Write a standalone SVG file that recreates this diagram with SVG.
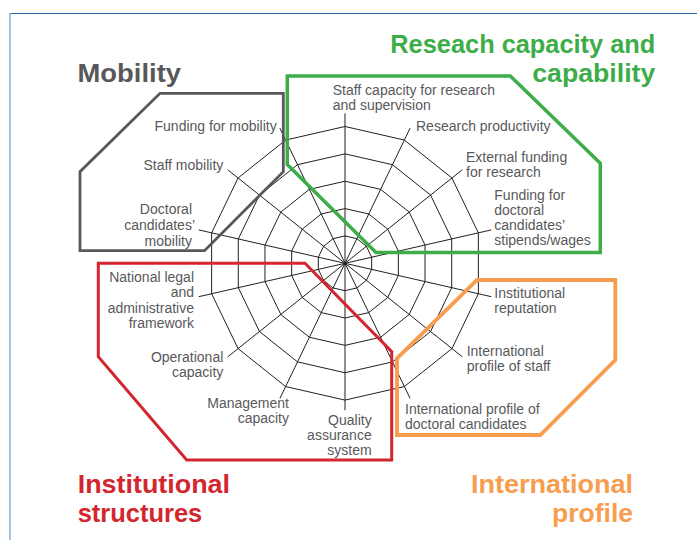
<svg xmlns="http://www.w3.org/2000/svg" width="697" height="540" viewBox="0 0 697 540">
<style>
.web{fill:none;stroke:#231f20;stroke-width:1}
.lbl{font-family:"Liberation Sans",Arial,sans-serif;font-size:14px;fill:#58595b}
.end{text-anchor:end}
.ttl{font-family:"Liberation Sans",Arial,sans-serif;font-size:25.5px;font-weight:bold}
.frame{fill:none;stroke-linejoin:miter}
</style>
<rect width="697" height="540" fill="#ffffff"/>
<g id="border">
<line x1="9" y1="13.5" x2="697" y2="13.5" stroke="#2b6aab" stroke-width="1.2"/>
<line x1="10" y1="13" x2="10" y2="540" stroke="#8cb6de" stroke-width="1.6"/>
</g>
<g id="connectors" transform="translate(345,263.3)">
<polygon class="web" points="0,-27.36 11.87,-24.65 21.39,-17.06 26.67,-6.09 26.67,6.09 21.39,17.06 11.87,24.65 0,27.36 -11.87,24.65 -21.39,17.06 -26.67,6.09 -26.67,-6.09 -21.39,-17.06 -11.87,-24.65"/>
<polygon class="web" points="0,-54.72 23.74,-49.30 42.78,-34.12 53.35,-12.18 53.35,12.18 42.78,34.12 23.74,49.30 0,54.72 -23.74,49.30 -42.78,34.12 -53.35,12.18 -53.35,-12.18 -42.78,-34.12 -23.74,-49.30"/>
<polygon class="web" points="0,-82.08 35.61,-73.95 64.17,-51.18 80.02,-18.26 80.02,18.26 64.17,51.18 35.61,73.95 0,82.08 -35.61,73.95 -64.17,51.18 -80.02,18.26 -80.02,-18.26 -64.17,-51.18 -35.61,-73.95"/>
<polygon class="web" points="0,-109.44 47.48,-98.60 85.56,-68.24 106.70,-24.35 106.70,24.35 85.56,68.24 47.48,98.60 0,109.44 -47.48,98.60 -85.56,68.24 -106.70,24.35 -106.70,-24.35 -85.56,-68.24 -47.48,-98.60"/>
<polygon class="web" points="0,-136.8 59.35,-123.25 106.95,-85.29 133.37,-30.44 133.37,30.44 106.95,85.29 59.35,123.25 0,136.8 -59.35,123.25 -106.95,85.29 -133.37,30.44 -133.37,-30.44 -106.95,-85.29 -59.35,-123.25"/>
<line class="web" x1="0" y1="0" x2="0" y2="-150"/>
<line class="web" x1="0" y1="0" x2="65.08" y2="-135.15"/>
<line class="web" x1="0" y1="0" x2="117.27" y2="-93.52"/>
<line class="web" x1="0" y1="0" x2="146.24" y2="-33.38"/>
<line class="web" x1="0" y1="0" x2="146.24" y2="33.38"/>
<line class="web" x1="0" y1="0" x2="117.27" y2="93.52"/>
<line class="web" x1="0" y1="0" x2="65.08" y2="135.15"/>
<line class="web" x1="0" y1="0" x2="0" y2="147"/>
<line class="web" x1="0" y1="0" x2="-65.08" y2="135.15"/>
<line class="web" x1="0" y1="0" x2="-117.27" y2="93.52"/>
<line class="web" x1="0" y1="0" x2="-146.24" y2="33.38"/>
<line class="web" x1="0" y1="0" x2="-146.24" y2="-33.38"/>
<line class="web" x1="0" y1="0" x2="-117.27" y2="-93.52"/>
<line class="web" x1="0" y1="0" x2="-65.08" y2="-135.15"/>
</g>
<g id="frame-mobility">
<polygon class="frame" points="160,93.3 283.3,93.3 283.3,171.7 204.5,250.7 80,250.7 80,171.7" stroke="#58585a" stroke-width="2.8"/>
<text class="ttl" x="77.5" y="81.7" fill="#58585a" textLength="103.5" lengthAdjust="spacingAndGlyphs">Mobility</text>
</g>
<g id="frame-research">
<polygon class="frame" points="287.3,76 510.3,76 600.3,163.3 600.3,252.5 376,252.5 287.3,164.5" stroke="#3dad48" stroke-width="3.5"/>
<text class="ttl end" x="655.3" y="53.3" fill="#3dad48" textLength="265" lengthAdjust="spacingAndGlyphs">Reseach capacity and</text>
<text class="ttl end" x="655.3" y="81.7" fill="#3dad48" textLength="123" lengthAdjust="spacingAndGlyphs">capability</text>
</g>
<g id="frame-institutional">
<polygon class="frame" points="98.3,263.3 305,263.3 391.7,351.7 391.7,460 186.7,460 98.3,356.7" stroke="#d3262f" stroke-width="3"/>
<text class="ttl" x="77.7" y="492.7" fill="#d3262f" textLength="152.3" lengthAdjust="spacingAndGlyphs">Institutional</text>
<text class="ttl" x="77.7" y="521.7" fill="#d3262f" textLength="124.6" lengthAdjust="spacingAndGlyphs">structures</text>
</g>
<g id="frame-international">
<polygon class="frame" points="477,280 615.3,280 615.3,360 540.3,435 397,435 397,358.3" stroke="#f89d4e" stroke-width="3.8"/>
<text class="ttl end" x="633" y="493.3" fill="#f89d4e" textLength="162" lengthAdjust="spacingAndGlyphs">International</text>
<text class="ttl end" x="633" y="521.7" fill="#f89d4e" textLength="81" lengthAdjust="spacingAndGlyphs">profile</text>
</g>
<g id="n-staff-capacity"><text class="lbl" x="332.7" y="94.7">Staff capacity for research</text><text class="lbl" x="332.7" y="109.7">and supervision</text></g>
<g id="n-research-productivity"><text class="lbl" x="416" y="131">Research productivity</text></g>
<g id="n-external-funding"><text class="lbl" x="466" y="161.7">External funding</text><text class="lbl" x="466" y="176.7">for research</text></g>
<g id="n-funding-doctoral"><text class="lbl" x="494.3" y="199.5">Funding for</text><text class="lbl" x="494.3" y="214.5">doctoral</text><text class="lbl" x="494.3" y="229.5">candidates’</text><text class="lbl" x="494.3" y="244.5">stipends/wages</text></g>
<g id="n-institutional-reputation"><text class="lbl" x="494.3" y="297.7">Institutional</text><text class="lbl" x="494.3" y="312.5">reputation</text></g>
<g id="n-intl-staff"><text class="lbl" x="466.7" y="356">International</text><text class="lbl" x="466.7" y="371">profile of staff</text></g>
<g id="n-intl-doctoral"><text class="lbl" x="405" y="414.3">International profile of</text><text class="lbl" x="405" y="429">doctoral candidates</text></g>
<g id="n-quality"><text class="lbl end" x="371.7" y="425">Quality</text><text class="lbl end" x="371.7" y="440">assurance</text><text class="lbl end" x="371.7" y="455">system</text></g>
<g id="n-management"><text class="lbl end" x="289" y="407.7">Management</text><text class="lbl end" x="289" y="422.7">capacity</text></g>
<g id="n-operational"><text class="lbl end" x="223.3" y="361.7">Operational</text><text class="lbl end" x="223.3" y="376.5">capacity</text></g>
<g id="n-national"><text class="lbl end" x="194" y="282">National legal</text><text class="lbl end" x="194" y="297">and</text><text class="lbl end" x="194" y="312.5">administrative</text><text class="lbl end" x="194" y="328">framework</text></g>
<g id="n-doctoral-mobility"><text class="lbl end" x="192" y="214">Doctoral</text><text class="lbl end" x="195" y="230">candidates’</text><text class="lbl end" x="192" y="245.5">mobility</text></g>
<g id="n-staff-mobility"><text class="lbl end" x="223.3" y="170">Staff mobility</text></g>
<g id="n-funding-mobility"><text class="lbl end" x="276.7" y="130.7">Funding for mobility</text></g>
</svg>
